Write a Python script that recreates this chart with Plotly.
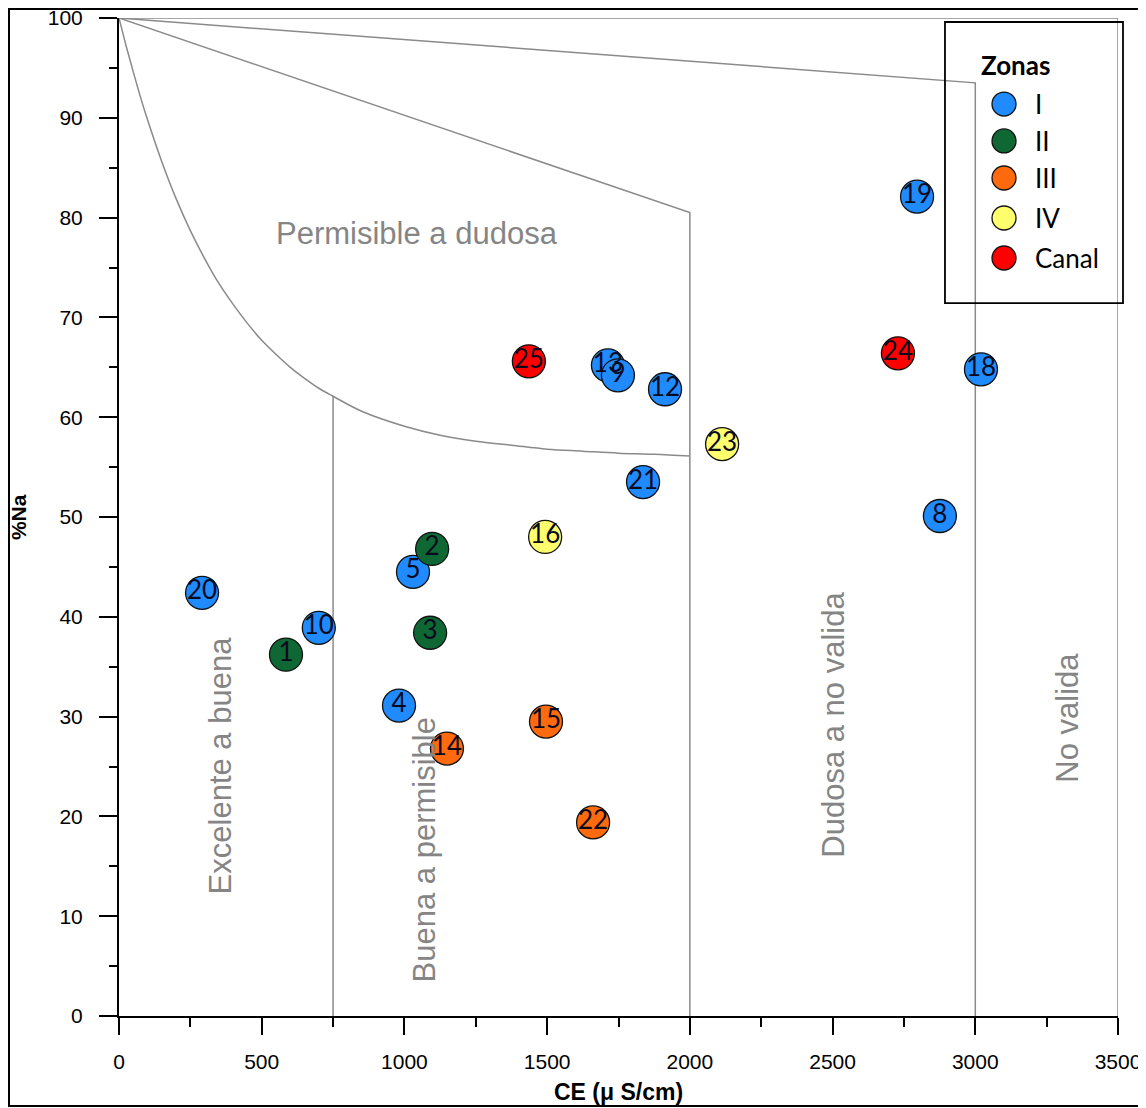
import plotly.graph_objects as go

# ---------------- data ----------------
zones = ["I", "II", "III", "IV", "Canal"]
zone_colors = ["#1f8bff", "#0f6834", "#ff6a0f", "#ffff6e", "#ff0000"]

ids_I = ["20", "10", "4", "5", "13", "9", "12", "21", "8", "18", "19"]
ce_I = [291, 700, 981, 1030, 1713, 1748, 1913, 1836, 2876, 3020, 2796]
na_I = [42.4, 38.9, 31.1, 44.5, 65.2, 64.2, 62.8, 53.5, 50.1, 64.8, 82.1]

ids_II = ["1", "2", "3"]
ce_II = [585, 1097, 1090]
na_II = [36.2, 46.8, 38.4]

ids_III = ["14", "15", "22"]
ce_III = [1149, 1496, 1661]
na_III = [26.8, 29.5, 19.4]

ids_IV = ["16", "23"]
ce_IV = [1493, 2113]
na_IV = [48.0, 57.3]

ids_C = ["25", "24"]
ce_C = [1436, 2729]
na_C = [65.6, 66.4]

# Wilcox diagram boundary lines
lim_a_x = [0, 3500, 3500]
lim_a_y = [100, 100, 0]
lim_b_x = [0, 3000, 3000]
lim_b_y = [100, 93.5, 0]
lim_c_x = [0, 2000, 2000]
lim_c_y = [100, 80.5, 0]
curve_x = [0, 25, 50, 75, 100, 150, 200, 250, 300, 350, 400, 450, 500, 550, 600, 650, 700,
           750, 850, 1000, 1125, 1250, 1375, 1500, 1625, 1750, 1875, 2000]
curve_y = [100, 97.2, 94.6, 92.1, 89.8, 85.6, 81.9, 78.7, 75.9, 73.4, 71.3, 69.4, 67.7, 66.3,
           65.0, 63.9, 62.9, 62.1, 60.6, 59.1, 58.2, 57.6, 57.2, 56.8, 56.6, 56.4, 56.3, 56.1]
lim_d_x = [750, 750]
lim_d_y = [62.1, 0]

region_labels = ["Permisible a dudosa", "Excelente a buena", "Buena a permisible",
                 "Dudosa a no valida", "No valida"]
region_x = [1044, 357, 1069, 2502, 3325]
region_y = [78.4, 25.1, 16.6, 29.2, 29.9]
region_angle = [0, -90, -90, -90, -90]

x_ticks = [0, 500, 1000, 1500, 2000, 2500, 3000, 3500]
y_ticks = [0, 10, 20, 30, 40, 50, 60, 70, 80, 90, 100]

# ---------------- figure ----------------
fig = go.Figure()
gray = "#8a8a8a"
for lx, ly in [(lim_a_x, lim_a_y), (lim_b_x, lim_b_y), (lim_c_x, lim_c_y),
               (curve_x, curve_y), (lim_d_x, lim_d_y)]:
    fig.add_trace(go.Scatter(x=lx, y=ly, mode="lines",
                             line=dict(color=gray, width=1.5,
                                       shape="spline" if len(lx) > 5 else "linear", smoothing=1.0),
                             hoverinfo="skip", showlegend=False))

series = [(ids_I, ce_I, na_I), (ids_II, ce_II, na_II), (ids_III, ce_III, na_III),
          (ids_IV, ce_IV, na_IV), (ids_C, ce_C, na_C)]
for (ids, xs, ys), name, col in zip(series, zones, zone_colors):
    fig.add_trace(go.Scatter(
        x=xs, y=ys, mode="markers+text", name=name, text=ids,
        textposition="middle center",
        textfont=dict(family="Lato, Liberation Sans, sans-serif", size=26, color="#0a0a1e"),
        marker=dict(size=33, color=col, line=dict(color="#111111", width=1.3)),
        cliponaxis=False, showlegend=False))

for t, x, y, a in zip(region_labels, region_x, region_y, region_angle):
    fig.add_annotation(x=x, y=y, xref="x", yref="y", text=t, textangle=a, showarrow=False,
                       font=dict(family="Liberation Sans, Arial, sans-serif", size=31, color="#858585"),
                       xanchor="center", yanchor="middle")

# axis titles
fig.add_annotation(x=0.5, y=-0.0762, xref="paper", yref="paper", text="<b>CE (μ S/cm)</b>",
                   showarrow=False, xanchor="center", yanchor="middle",
                   font=dict(family="Liberation Sans, Arial, sans-serif", size=23, color="black"))
fig.add_annotation(x=-0.101, y=0.5, xref="paper", yref="paper", text="<b>%Na</b>", textangle=-90,
                   showarrow=False, xanchor="center", yanchor="middle",
                   font=dict(family="Liberation Sans, Arial, sans-serif", size=21, color="black"))

# manual legend
fig.add_shape(type="rect", xref="paper", yref="paper", x0=0.8268, x1=1.005, y0=0.7144, y1=0.996,
              line=dict(color="black", width=1.8), fillcolor="rgba(0,0,0,0)")
fig.add_annotation(x=0.861, y=0.953, xref="paper", yref="paper", text="<b>Zonas</b>", showarrow=False,
                   xanchor="left", yanchor="middle",
                   font=dict(family="Lato, Liberation Sans, sans-serif", size=26, color="black"))
leg_y = [0.9138, 0.8768, 0.8397, 0.7996, 0.7595]
for name, col, yy in zip(zones, zone_colors, leg_y):
    fig.add_shape(type="circle", xref="paper", yref="paper", xsizemode="pixel", ysizemode="pixel",
                  xanchor=0.8859, yanchor=yy, x0=-12, x1=12, y0=-12, y1=12,
                  fillcolor=col, line=dict(color="#111111", width=1.3))
    fig.add_annotation(x=0.915, y=yy, xref="paper", yref="paper", text=name, showarrow=False,
                       xanchor="left", yanchor="middle",
                       font=dict(family="Lato, Liberation Sans, sans-serif", size=26, color="black"))

# outer frame (around the whole picture)
fig.add_shape(type="rect", xref="paper", yref="paper", x0=-0.1101, x1=1.025, y0=-0.0902, y1=1.009,
              line=dict(color="black", width=2), fillcolor="rgba(0,0,0,0)", layer="below")

fig.update_layout(
    width=1146, height=1108,
    margin=dict(l=111, r=36, t=10, b=100, autoexpand=False),
    paper_bgcolor="white", plot_bgcolor="white",
    showlegend=False,
    xaxis=dict(range=[0, 3500], tickvals=x_ticks, showgrid=False, zeroline=False, automargin=False,
               ticklabeloverflow="allow",
               showline=True, linecolor="black", linewidth=2,
               ticks="outside", ticklen=17, tickwidth=1.5, tickcolor="black",
               ticklabelstandoff=9,
               minor=dict(dtick=250, ticks="outside", ticklen=9, tickwidth=1.5, tickcolor="black"),
               tickfont=dict(family="Liberation Sans, Arial, sans-serif", size=21, color="black")),
    yaxis=dict(range=[0, 100], tickvals=y_ticks, showgrid=False, zeroline=False, automargin=False,
               ticklabeloverflow="allow",
               showline=True, linecolor="black", linewidth=2,
               ticks="outside", ticklen=18, tickwidth=1.5, tickcolor="black",
               ticklabelstandoff=12,
               minor=dict(dtick=5, ticks="outside", ticklen=8, tickwidth=1.5, tickcolor="black"),
               tickfont=dict(family="Liberation Sans, Arial, sans-serif", size=21, color="black")),
)

fig.write_html("out.html")
